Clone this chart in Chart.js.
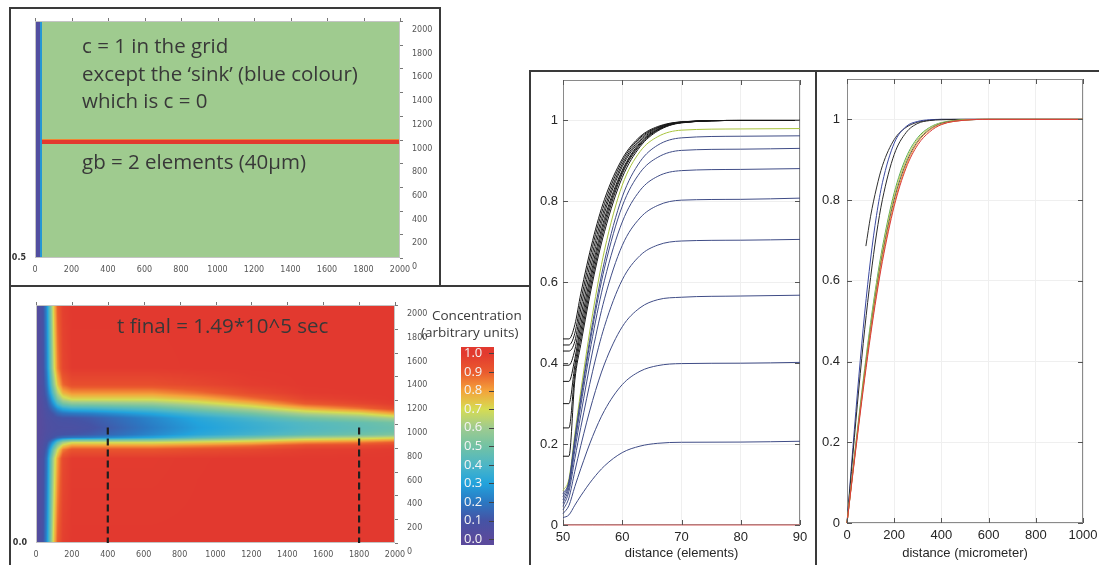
<!DOCTYPE html>
<html lang="en">
<head>
<meta charset="UTF-8">
<title>Difusão no contorno de grão</title>
<script src="https://cdn.jsdelivr.net/npm/chart.js"></script>
<style>
    body { margin: 0; width: 1099px; height: 565px; overflow: hidden; background: #fff; position: relative; font-family: 'Open Sans', sans-serif; }
    .frame { position: absolute; border: 2px solid #3a3a3a; box-sizing: border-box; }
    .box { position: absolute; }
    .note { position: absolute; color: #383838; font-size: 20.5px; line-height: 26px; white-space: nowrap; }
    .cb { position: absolute; color: #3a3a3a; font-size: 13.5px; line-height: 16px; white-space: nowrap; }
</style>
</head>
<body>
    <div class="frame" style="left:9px;top:7px;width:432px;height:280px"></div>
    <div class="frame" style="left:9px;top:285px;width:522px;height:300px"></div>
    <div class="frame" style="left:529px;top:70px;width:288px;height:500px"></div>
    <div class="frame" style="left:815px;top:70px;width:300px;height:500px"></div>

    <div class="box" style="left:12px;top:9px;width:426px;height:275px"><canvas id="heatTop"></canvas></div>
    <div class="box" style="left:12px;top:288px;width:420px;height:277px"><canvas id="heatBottom"></canvas></div>
    <div class="box" style="left:461px;top:347px;width:33px;height:198px"><canvas id="colourBar"></canvas></div>
    <div class="box" style="left:532px;top:72px;width:283px;height:493px"><canvas id="chartElements"></canvas></div>
    <div class="box" style="left:818px;top:72px;width:281px;height:493px"><canvas id="chartMicro"></canvas></div>

    <div class="note" style="left:82px;top:32px">c = 1 in the grid</div>
    <div class="note" style="left:82px;top:60px">except the ‘sink’ (blue colour)</div>
    <div class="note" style="left:82px;top:87px">which is c = 0</div>
    <div class="note" style="left:82px;top:148px">gb = 2 elements (40µm)</div>
    <div class="note" style="left:117px;top:312px">t final = 1.49*10^5 sec</div>
    <div class="cb" style="left:432px;top:307px">Concentration</div>
    <div class="cb" style="left:421px;top:324px">(arbitrary units)</div>

<script>
    // ---- colour map / colour bar ----
    const CMAP_POS = [0, 0.1, 0.2, 0.3, 0.4, 0.5, 0.6, 0.7, 0.8, 0.9, 1.0];
    const CMAP_COL = ['#5a4a9c', '#4553a5', '#2b78c2', '#22a3dc', '#4db6c6', '#72c2a4', '#9fcb8f', '#d6dc52', '#f4a23a', '#ea5a2e', '#e2392f'];
    const CB_TICKS = [0, 0.1, 0.2, 0.3, 0.4, 0.5, 0.6, 0.7, 0.8, 0.9, 1.0];

    // ---- grid maps (x, y in grid units) ----
    const GRID_TICKS = [0, 200, 400, 600, 800, 1000, 1200, 1400, 1600, 1800, 2000];

    // initial state: cell edges and values
    const TOP_X_EDGES = [0, 27, 38, 2000];
    const TOP_Y_EDGES = [0, 958, 966, 992, 1000, 2000];
    const TOP_C = [
        [0.04, 0.27, 0.6],
        [0.04, 0.27, 0.84],
        [0.04, 0.27, 1.0],
        [0.04, 0.27, 0.84],
        [0.04, 0.27, 0.6]
    ];

    // final state: values read at grid nodes (rows = HEAT_Y, columns = HEAT_X)
    const HEAT_X = [0, 40, 60, 80, 100, 120, 150, 200, 300, 450, 650, 900, 1200, 1500, 1800, 2000];
    const HEAT_Y = [0, 710, 785, 820, 845, 865, 885, 910, 940, 970, 1010, 1050, 1090, 1130, 1170, 1210, 1260, 1330, 1470, 2000];
    const HEAT_C = [
        [0, .10, .25, .50, .75, .90, .98, 1, 1, 1, 1, 1, 1, 1, 1, 1],
        [0, .08, .19, .42, .64, .80, .95, .993, .993, .993, .993, .998, 1, 1, 1, 1],
        [0, .065, .14, .32, .52, .68, .85, .917, .917, .917, .917, .937, .955, .983, .989, .995],
        [0, .055, .11, .24, .40, .56, .72, .799, .799, .799, .799, .827, .866, .93, .943, .964],
        [0, .047, .09, .18, .30, .45, .60, .690, .690, .691, .692, .722, .762, .827, .856, .898],
        [0, .042, .075, .12, .20, .30, .42, .490, .496, .513, .536, .597, .656, .727, .756, .80],
        [0, .038, .065, .08, .11, .15, .18, .205, .221, .260, .315, .420, .516, .613, .648, .685],
        [0, .035, .058, .07, .08, .09, .10, .107, .126, .173, .239, .321, .386, .453, .493, .532],
        [0, .032, .052, .062, .07, .075, .08, .083, .103, .152, .220, .299, .358, .418, .457, .487],
        [0, .03, .05, .06, .065, .07, .07, .07, .09, .14, .21, .29, .35, .41, .45, .48],
        [0, .032, .052, .062, .07, .075, .08, .085, .105, .154, .222, .301, .361, .422, .462, .502],
        [0, .036, .06, .07, .08, .09, .10, .101, .120, .167, .234, .320, .400, .498, .562, .630],
        [0, .04, .07, .09, .12, .16, .19, .206, .222, .261, .316, .407, .507, .634, .70, .803],
        [0, .045, .085, .13, .19, .26, .33, .369, .379, .405, .442, .529, .638, .776, .863, .947],
        [0, .05, .10, .18, .28, .40, .50, .550, .555, .567, .583, .654, .759, .902, .958, .99],
        [0, .06, .12, .23, .37, .52, .65, .711, .711, .711, .711, .762, .863, .966, .99, 1],
        [0, .07, .15, .30, .47, .63, .77, .819, .819, .819, .819, .870, .949, .994, 1, 1],
        [0, .08, .18, .37, .57, .74, .88, .935, .935, .935, .935, .959, .99, 1, 1, 1],
        [0, .09, .22, .45, .68, .84, .96, .996, .996, .996, .996, 1, 1, 1, 1, 1],
        [0, .10, .25, .50, .75, .90, .98, 1, 1, 1, 1, 1, 1, 1, 1, 1]
    ];
    const CUT_X = [400, 1800];
    const CUT_TOP = 970;

    // ---- profiles vs distance (elements) ----
    const MID_X = [50, 51, 52, 53, 55, 57, 60, 63, 66, 70, 80, 90];
    const MID_Y_TICKS = [0, 0.2, 0.4, 0.6, 0.8, 1];
    const MID_X_TICKS = [50, 60, 70, 80, 90];
    const MID_RED = [0, 0, 0, 0, 0, 0, 0, 0, 0, 0, 0, 0];
    const MID_BLUE = [
        [.018, .025, .049, .072, .113, .146, .179, .195, .202, .2045, .205, .207],
        [.028, .048, .095, .139, .219, .283, .347, .380, .394, .399, .400, .402],
        [.037, .067, .133, .196, .308, .398, .490, .537, .557, .563, .566, .568],
        [.046, .083, .164, .241, .380, .491, .606, .666, .692, .702, .704, .706],
        [.054, .093, .185, .272, .430, .559, .691, .759, .790, .803, .805, .808],
        [.062, .101, .200, .295, .466, .605, .749, .827, .862, .876, .879, .881],
        [.070, .106, .209, .309, .488, .635, .788, .871, .909, .926, .929, .931],
        [.077, .108, .215, .316, .500, .652, .811, .898, .939, .957, .961, .962]
    ];
    const MID_GREEN = [.085, .114, .225, .331, .522, .679, .840, .923, .960, .976, .979, .980];
    const MID_BLACK = [
        [.17, .17, .358, .446, .601, .725, .859, .935, .974, .994, 1, 1],
        [.24, .24, .376, .462, .614, .737, .868, .939, .976, .9945, 1, 1],
        [.30, .30, .394, .478, .628, .748, .873, .942, .977, .995, 1, 1],
        [.355, .355, .411, .495, .641, .758, .877, .945, .978, .995, 1, 1],
        [.395, .395, .433, .514, .657, .771, .886, .949, .980, .9956, 1, 1],
        [.43, .43, .454, .534, .673, .782, .892, .953, .982, .996, 1, 1],
        [.445, .445, .474, .553, .689, .794, .899, .957, .983, .9964, 1, 1],
        [.46, .46, .495, .572, .703, .805, .905, .960, .985, .9966, 1, 1]
    ];

    // ---- profiles vs distance (micrometer) ----
    const MIC_X = [0, 25, 50, 75, 100, 125, 150, 200, 250, 300, 350, 400, 500, 600, 1000];
    const MIC_X_TICKS = [0, 200, 400, 600, 800, 1000];
    const MIC_RED = [0, .123, .243, .358, .465, .562, .648, .785, .879, .937, .969, .987, .998, 1, 1];
    const MIC_ORANGE = [0, .125, .248, .364, .472, .570, .657, .792, .885, .943, .973, .988, .998, 1, 1];
    const MIC_GREY = [0, .128, .252, .370, .479, .578, .665, .801, .891, .946, .975, .990, .998, 1, 1];
    const MIC_YELLOW = [0, .130, .256, .376, .487, .587, .674, .810, .898, .951, .978, .991, .999, 1, 1];
    const MIC_GREEN = [0, .133, .261, .383, .496, .596, .683, .818, .905, .955, .980, .992, .999, 1, 1];
    const MIC_BLACK = [0, .170, .332, .480, .608, .716, .801, .913, .967, .990, .997, .999, 1, 1, 1];
    const MIC_BLUE = [0, .187, .362, .520, .654, .762, .843, .941, .982, .995, .999, 1, 1, 1, 1];
    const MIC_LATE_X = [80, 100, 125, 150, 200, 250, 300, 350, 400, 500, 1000];
    const MIC_LATE = [.686, .76, .83, .885, .95, .98, .993, .998, 1, 1, 1];

    function hexRgb(h) {
        return [parseInt(h.substr(1, 2), 16), parseInt(h.substr(3, 2), 16), parseInt(h.substr(5, 2), 16)];
    }
    const CMAP_RGB = CMAP_COL.map(hexRgb);

    function cmap(v) {
        v = Math.max(0, Math.min(1, v));
        let i = 0;
        while (i < CMAP_POS.length - 2 && v > CMAP_POS[i + 1]) i++;
        const t = (v - CMAP_POS[i]) / (CMAP_POS[i + 1] - CMAP_POS[i]);
        const a = CMAP_RGB[i], b = CMAP_RGB[i + 1];
        return [a[0] + (b[0] - a[0]) * t, a[1] + (b[1] - a[1]) * t, a[2] + (b[2] - a[2]) * t];
    }

    function locate(arr, v) {
        let i = 0;
        while (i < arr.length - 2 && v > arr[i + 1]) i++;
        const t = Math.max(0, Math.min(1, (v - arr[i]) / (arr[i + 1] - arr[i])));
        return [i, t];
    }

    // paints the map into the chart area, cell positions come from the scales
    const heatPlugin = {
        id: 'heat',
        beforeDatasetsDraw(chart, args, o) {
            if (!o.vals) return;
            const a = chart.chartArea;
            const sx = chart.scales.x, sy = chart.scales.y;
            const w = Math.round(a.right - a.left), h = Math.round(a.bottom - a.top);
            const off = document.createElement('canvas');
            off.width = w; off.height = h;
            const octx = off.getContext('2d');
            const img = octx.createImageData(w, h);
            for (let j = 0; j < h; j++) {
                const yv = sy.getValueForPixel(a.top + j + 0.5);
                const [iy, ty] = locate(o.ys, yv);
                for (let i = 0; i < w; i++) {
                    const xv = sx.getValueForPixel(a.left + i + 0.5);
                    const [ix, tx] = locate(o.xs, xv);
                    let v;
                    if (o.cells) {
                        v = o.vals[iy][ix];
                    } else {
                        const r0 = o.vals[iy], r1 = o.vals[iy + 1];
                        const v0 = r0[ix] + (r0[ix + 1] - r0[ix]) * tx;
                        const v1 = r1[ix] + (r1[ix + 1] - r1[ix]) * tx;
                        v = v0 + (v1 - v0) * ty;
                    }
                    const c = cmap(v);
                    const k = (j * w + i) * 4;
                    img.data[k] = c[0]; img.data[k + 1] = c[1]; img.data[k + 2] = c[2]; img.data[k + 3] = 255;
                }
            }
            octx.putImageData(img, 0, 0);
            chart.ctx.drawImage(off, a.left, a.top);
        }
    };

    // box round the plot (under the lines) plus short tick marks (positive = outwards)
    const framePlugin = {
        id: 'frameDeco',
        beforeDatasetsDraw(chart, args, o) {
            if (!o.box) return;
            const ctx = chart.ctx, a = chart.chartArea;
            ctx.save();
            ctx.lineWidth = 1;
            ctx.strokeStyle = o.box;
            ctx.strokeRect(Math.round(a.left) + 0.5, Math.round(a.top) + 0.5, Math.round(a.right - a.left) - 1, Math.round(a.bottom - a.top) - 1);
            ctx.restore();
        },
        afterDatasetsDraw(chart, args, o) {
            if (!o.sides) return;
            const ctx = chart.ctx, a = chart.chartArea;
            ctx.save();
            ctx.lineWidth = 1;
            ctx.strokeStyle = o.color;
            ctx.beginPath();
            Object.entries(o.sides).forEach(([side, len]) => {
                const horiz = side === 'top' || side === 'bottom';
                const sc = horiz ? chart.scales.x : chart.scales.y;
                sc.ticks.forEach(t => {
                    const p = Math.round(sc.getPixelForValue(t.value)) + 0.5;
                    if (side === 'top') { ctx.moveTo(p, a.top); ctx.lineTo(p, a.top - len); }
                    if (side === 'bottom') { ctx.moveTo(p, a.bottom); ctx.lineTo(p, a.bottom + len); }
                    if (side === 'left') { ctx.moveTo(a.left, p); ctx.lineTo(a.left - len, p); }
                    if (side === 'right') { ctx.moveTo(a.right, p); ctx.lineTo(a.right + len, p); }
                });
            });
            ctx.stroke();
            ctx.restore();
        }
    };

    Chart.register(heatPlugin, framePlugin);

    function setTicks(list) {
        return function (s) { s.ticks = list.map(v => ({ value: v })); };
    }

    // fixed axis size, no extra room for overhanging end labels
    function fixSize(prop, val) {
        return function (s) {
            s[prop] = val;
            s.paddingTop = 0; s.paddingBottom = 0; s.paddingLeft = 0; s.paddingRight = 0;
        };
    }

    const smallFont = { family: 'DejaVu Sans', size: 8 };
    const plain = v => String(v);

    function heatOptions(cfg) {
        return {
            responsive: true,
            maintainAspectRatio: false,
            animation: false,
            layout: { padding: { top: cfg.top } },
            plugins: {
                legend: { display: false },
                tooltip: { enabled: false },
                heat: cfg.heat,
                frameDeco: { box: '#c4c4c4', color: '#777', sides: { top: 3, right: 3 } }
            },
            scales: {
                x: {
                    type: 'linear', min: 0, max: 2000,
                    afterBuildTicks: setTicks(GRID_TICKS),
                    afterFit: fixSize('height', cfg.bottom),
                    ticks: { font: smallFont, color: '#555', padding: 7, maxRotation: 0, autoSkip: false, callback: plain },
                    grid: { display: false, drawTicks: false },
                    border: { display: false }
                },
                y: {
                    type: 'linear', position: 'right', min: 0, max: 2000,
                    afterBuildTicks: setTicks(GRID_TICKS),
                    afterFit: fixSize('width', cfg.right),
                    ticks: { font: smallFont, color: '#555', padding: 12, labelOffset: 9, autoSkip: false, callback: plain },
                    grid: { display: false, drawTicks: false },
                    border: { display: false }
                },
                yl: {
                    type: 'linear', axis: 'y', position: 'left', min: 0, max: 2000,
                    afterBuildTicks: setTicks([0]),
                    afterFit: fixSize('width', cfg.left),
                    ticks: { callback: () => cfg.leftLabel, font: { family: 'DejaVu Sans', size: 8, weight: 'bold' }, color: '#333', padding: 9 },
                    grid: { display: false, drawTicks: false },
                    border: { display: false }
                }
            }
        };
    }

    function xy(xs, ys) {
        return ys.map((v, i) => ({ x: xs[i], y: v }));
    }

    function curve(xs, ys, color) {
        return {
            data: xy(xs, ys), borderColor: color, borderWidth: 1, pointRadius: 0,
            cubicInterpolationMode: 'monotone', showLine: true, fill: false, clip: 3
        };
    }

    // ---- top map ----
    new Chart(document.getElementById('heatTop'), {
        type: 'scatter',
        data: { datasets: [] },
        options: heatOptions({
            top: 12, bottom: 26, left: 23, right: 38, leftLabel: '0.5',
            heat: { xs: TOP_X_EDGES, ys: TOP_Y_EDGES, vals: TOP_C, cells: true }
        })
    });

    // ---- bottom map with the two cut lines ----
    new Chart(document.getElementById('heatBottom'), {
        type: 'scatter',
        data: {
            datasets: CUT_X.map(cx => ({
                data: [{ x: cx, y: CUT_TOP }, { x: cx, y: 0 }],
                showLine: true, borderColor: '#1e1e1e', borderWidth: 2.2, borderDash: [7, 4],
                pointRadius: 0, clip: 3
            }))
        },
        options: heatOptions({
            top: 17, bottom: 22, left: 24, right: 37, leftLabel: '0.0',
            heat: { xs: HEAT_X, ys: HEAT_Y, vals: HEAT_C, cells: false }
        })
    });

    // ---- colour bar ----
    const CB_MIN = -0.032, CB_MAX = 1.035;
    new Chart(document.getElementById('colourBar'), {
        type: 'bar',
        data: {
            labels: ['c'],
            datasets: [{
                data: [[CB_MIN, CB_MAX]],
                barPercentage: 1, categoryPercentage: 1, borderWidth: 0,
                backgroundColor: function (context) {
                    const chart = context.chart;
                    if (!chart.chartArea) return CMAP_COL[5];
                    const sy = chart.scales.y;
                    const g = chart.ctx.createLinearGradient(0, sy.getPixelForValue(0), 0, sy.getPixelForValue(1));
                    CMAP_POS.forEach((p, i) => g.addColorStop(p, CMAP_COL[i]));
                    return g;
                }
            }]
        },
        options: {
            responsive: true,
            maintainAspectRatio: false,
            animation: false,
            plugins: {
                legend: { display: false },
                tooltip: { enabled: false },
                frameDeco: { box: '#6a6a6a', color: '#444', sides: { right: -5 } }
            },
            scales: {
                x: { display: false },
                y: {
                    position: 'left', min: CB_MIN, max: CB_MAX,
                    afterBuildTicks: setTicks(CB_TICKS),
                    afterFit: fixSize('width', 0),
                    ticks: { z: 1, mirror: true, autoSkip: false, callback: v => v.toFixed(1), color: '#f4f4f4', padding: 3, font: { family: 'Open Sans', size: 13 } },
                    grid: { display: false, drawTicks: false },
                    border: { display: false }
                }
            }
        }
    });

    function profileOptions(cfg) {
        return {
            responsive: true,
            maintainAspectRatio: false,
            animation: false,
            layout: { padding: { top: cfg.top, right: cfg.right } },
            plugins: {
                legend: { display: false },
                tooltip: { enabled: false },
                frameDeco: { box: '#8a8a8a', color: '#555', sides: { top: -5, bottom: -5, left: -5, right: -5 } }
            },
            scales: {
                x: {
                    type: 'linear', min: cfg.xmin, max: cfg.xmax,
                    afterBuildTicks: setTicks(cfg.xticks),
                    afterFit: fixSize('height', cfg.bottom),
                    ticks: { font: { family: 'Liberation Sans', size: 13 }, color: '#262626', padding: 5, maxRotation: 0, callback: plain },
                    title: { display: true, text: cfg.title, font: { family: 'Liberation Sans', size: 13 }, color: '#262626', padding: { top: 8 } },
                    grid: { color: '#efefef', drawTicks: false },
                    border: { display: false }
                },
                y: {
                    type: 'linear', min: 0, max: 1.1,
                    afterBuildTicks: setTicks(MID_Y_TICKS),
                    afterFit: fixSize('width', cfg.left),
                    ticks: { font: { family: 'Liberation Sans', size: 13 }, color: '#262626', padding: cfg.ypad, callback: plain },
                    grid: { color: '#efefef', drawTicks: false },
                    border: { display: false }
                }
            }
        };
    }

    // ---- profiles, distance in elements ----
    const midSets = [curve(MID_X, MID_RED, '#e26a6a')];
    MID_BLUE.forEach(ys => midSets.push(curve(MID_X, ys, '#3f4c86')));
    midSets.push(curve(MID_X, MID_GREEN, '#a9c43e'));
    MID_BLACK.forEach(ys => midSets.push(curve(MID_X, ys, '#161616')));

    new Chart(document.getElementById('chartElements'), {
        type: 'scatter',
        data: { datasets: midSets },
        options: profileOptions({
            xmin: 50, xmax: 90, xticks: MID_X_TICKS, title: 'distance (elements)',
            top: 8, right: 15, left: 31, bottom: 40, ypad: 5
        })
    });

    // ---- profiles, distance in micrometer ----
    new Chart(document.getElementById('chartMicro'), {
        type: 'scatter',
        data: {
            datasets: [
                curve(MIC_X, MIC_RED, '#d83a3a'),
                curve(MIC_X, MIC_ORANGE, '#e8963a'),
                curve(MIC_X, MIC_GREY, '#555555'),
                curve(MIC_X, MIC_YELLOW, '#c9c94a'),
                curve(MIC_X, MIC_GREEN, '#52a852'),
                curve(MIC_X, MIC_BLACK, '#2a2a2a'),
                curve(MIC_X, MIC_BLUE, '#3a48a0'),
                curve(MIC_LATE_X, MIC_LATE, '#303030')
            ]
        },
        options: profileOptions({
            xmin: 0, xmax: 1000, xticks: MIC_X_TICKS, title: 'distance (micrometer)',
            top: 7, right: 16, left: 29, bottom: 42, ypad: 7
        })
    });
</script>
</body>
</html>
